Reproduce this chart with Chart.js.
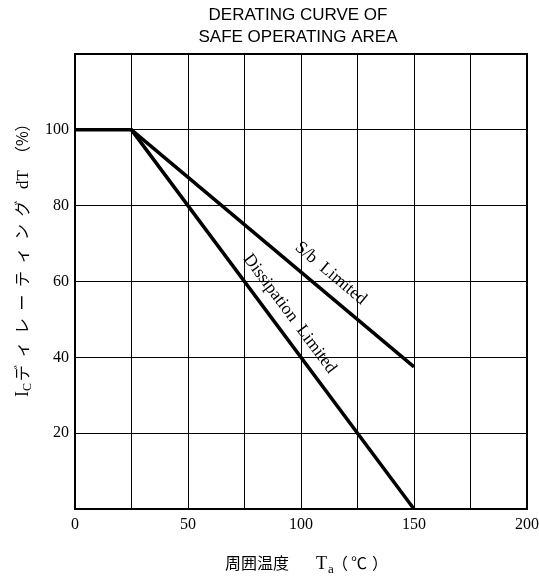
<!DOCTYPE html>
<html>
<head>
<meta charset="utf-8">
<script src="https://cdn.jsdelivr.net/npm/chart.js@4"></script>
<style>
  html, body { margin: 0; padding: 0; background: #fff; }
  #wrap { width: 539px; height: 578px; }
</style>
</head>
<body>
<div id="wrap"><canvas id="c" width="539" height="578"></canvas></div>
<script>
// ---- data ----
const titleLines = ['DERATING CURVE OF', 'SAFE OPERATING AREA'];
const dissipationTemp = [0, 25, 150];
const dissipationPct = [100, 100, 0];
const sbTemp = [25, 150];
const sbPct = [100, 37.5];
const xTickLabels = [0, 50, 100, 150, 200];
const yTickLabels = [20, 40, 60, 80, 100];
const sbLabel = 'S/b  Limited';
const dissLabel = 'Dissipation  Limited';
const sbLabelAtTemp = 108;
const dissLabelAtTemp = 89;

const toPts = (xs, ys) => xs.map((x, i) => ({ x: x, y: ys[i] }));

const serif = '"Liberation Serif", "DejaVu Serif", serif';
const cjk = '"Noto Sans CJK JP", sans-serif';

function interp(xs, ys, t) {
  for (let i = 0; i < xs.length - 1; i++) {
    if (t >= xs[i] && t <= xs[i + 1]) {
      const f = (t - xs[i]) / (xs[i + 1] - xs[i]);
      return ys[i] + f * (ys[i + 1] - ys[i]);
    }
  }
  return ys[ys.length - 1];
}

const textPlugin = {
  id: 'texts',
  afterDraw(chart) {
    const ctx = chart.ctx;
    const xs = chart.scales.x, ys = chart.scales.y;
    const a = chart.chartArea;
    ctx.save();
    // frame
    ctx.strokeStyle = '#000';
    ctx.lineWidth = 2;
    ctx.strokeRect(a.left, a.top, a.right - a.left, a.bottom - a.top);

    ctx.fillStyle = '#000';
    // title
    ctx.font = '17px "Liberation Sans", Arial, sans-serif';
    ctx.textAlign = 'center';
    ctx.textBaseline = 'middle';
    ctx.fillText(titleLines[0], 298, 15);
    ctx.fillText(titleLines[1], 298, 37);

    // curve labels
    function curveLabel(txt, txs, tys, t, off) {
      const px0 = xs.getPixelForValue(txs[txs.length - 2]);
      const py0 = ys.getPixelForValue(tys[tys.length - 2]);
      const px1 = xs.getPixelForValue(txs[txs.length - 1]);
      const py1 = ys.getPixelForValue(tys[tys.length - 1]);
      const ang = Math.atan2(py1 - py0, px1 - px0);
      const cx = xs.getPixelForValue(t);
      const cy = ys.getPixelForValue(interp(txs, tys, t));
      ctx.save();
      ctx.translate(cx, cy);
      ctx.rotate(ang);
      ctx.font = '17.5px ' + serif;
      ctx.textAlign = 'center';
      ctx.textBaseline = 'middle';
      ctx.fillText(txt, 0, -off);
      ctx.restore();
    }
    curveLabel(sbLabel, sbTemp, sbPct, sbLabelAtTemp, 18);
    curveLabel(dissLabel, dissipationTemp, dissipationPct, dissLabelAtTemp, 17);

    // y-axis title (rotated)
    ctx.save();
    ctx.translate(28, 397);
    ctx.rotate(-Math.PI / 2);
    ctx.textAlign = 'left';
    ctx.textBaseline = 'alphabetic';
    let x = 0;
    ctx.font = '18px ' + serif;
    ctx.fillText('I', x, 0); x += ctx.measureText('I').width;
    ctx.font = '12px ' + serif;
    ctx.fillText('C', x, 3); x += ctx.measureText('C').width + 2;
    ctx.font = '16px ' + cjk;
    const kana = 'ディレーティング';
    for (const ch of kana) {
      ctx.fillText(ch, x, 0);
      x += 23.5;
    }
    x += 4;
    ctx.font = '17px ' + serif;
    ctx.fillText('dT', x, 0); x += ctx.measureText('dT').width + 8;
    ctx.font = '16px ' + cjk;
    ctx.fillText('（%）', x, 0);
    ctx.restore();

    // x-axis title
    ctx.textAlign = 'left';
    ctx.textBaseline = 'alphabetic';
    ctx.font = '16px ' + cjk;
    let xx = 225;
    for (const ch of '周囲温度') { ctx.fillText(ch, xx, 569); xx += 16; }
    ctx.font = '18px ' + serif;
    ctx.fillText('T', 316, 569);
    ctx.font = '13px ' + serif;
    ctx.fillText('a', 328, 573);
    ctx.font = '16px ' + cjk;
    ctx.fillText('（', 332, 569);
    ctx.fillText('℃', 351, 569);
    ctx.fillText('）', 372, 569);
    ctx.restore();
  }
};

new Chart(document.getElementById('c'), {
  type: 'line',
  data: {
    datasets: [
      {
        label: 'Dissipation Limited',
        data: toPts(dissipationTemp, dissipationPct),
        borderColor: '#000',
        borderWidth: 3.5,
        pointRadius: 0,
        tension: 0,
        fill: false,
        borderCapStyle: 'butt',
        borderJoinStyle: 'miter'
      },
      {
        label: 'S/b Limited',
        data: toPts(sbTemp, sbPct),
        borderColor: '#000',
        borderWidth: 3.5,
        pointRadius: 0,
        tension: 0,
        fill: false,
        borderCapStyle: 'butt'
      }
    ]
  },
  options: {
    responsive: false,
    animation: false,
    devicePixelRatio: 1,
    layout: { padding: { left: 45, right: 12, top: 54, bottom: 47 } },
    plugins: {
      legend: { display: false },
      title: { display: false },
      tooltip: { enabled: false }
    },
    scales: {
      x: {
        type: 'linear',
        min: 0,
        max: 200,
        afterFit(s) { s.height = 22; s.paddingLeft = 0; s.paddingRight = 0; },
        ticks: {
          stepSize: 25,
          autoSkip: false,
          maxRotation: 0,
          padding: 6,
          color: '#000',
          font: { family: serif, size: 16 },
          callback: (v) => xTickLabels.includes(v) ? String(v) : ''
        },
        grid: { color: '#000', lineWidth: 1, drawTicks: false },
        border: { display: true, color: '#000', width: 2 }
      },
      y: {
        min: 0,
        max: 120,
        afterFit(s) { s.width = 30; s.paddingTop = 0; s.paddingBottom = 0; },
        ticks: {
          stepSize: 20,
          padding: 6,
          color: '#000',
          font: { family: serif, size: 16 },
          callback: (v) => yTickLabels.includes(v) ? String(v) : ''
        },
        grid: { color: '#000', lineWidth: 1, drawTicks: false },
        border: { display: true, color: '#000', width: 2 }
      }
    }
  },
  plugins: [textPlugin]
});
</script>
</body>
</html>
